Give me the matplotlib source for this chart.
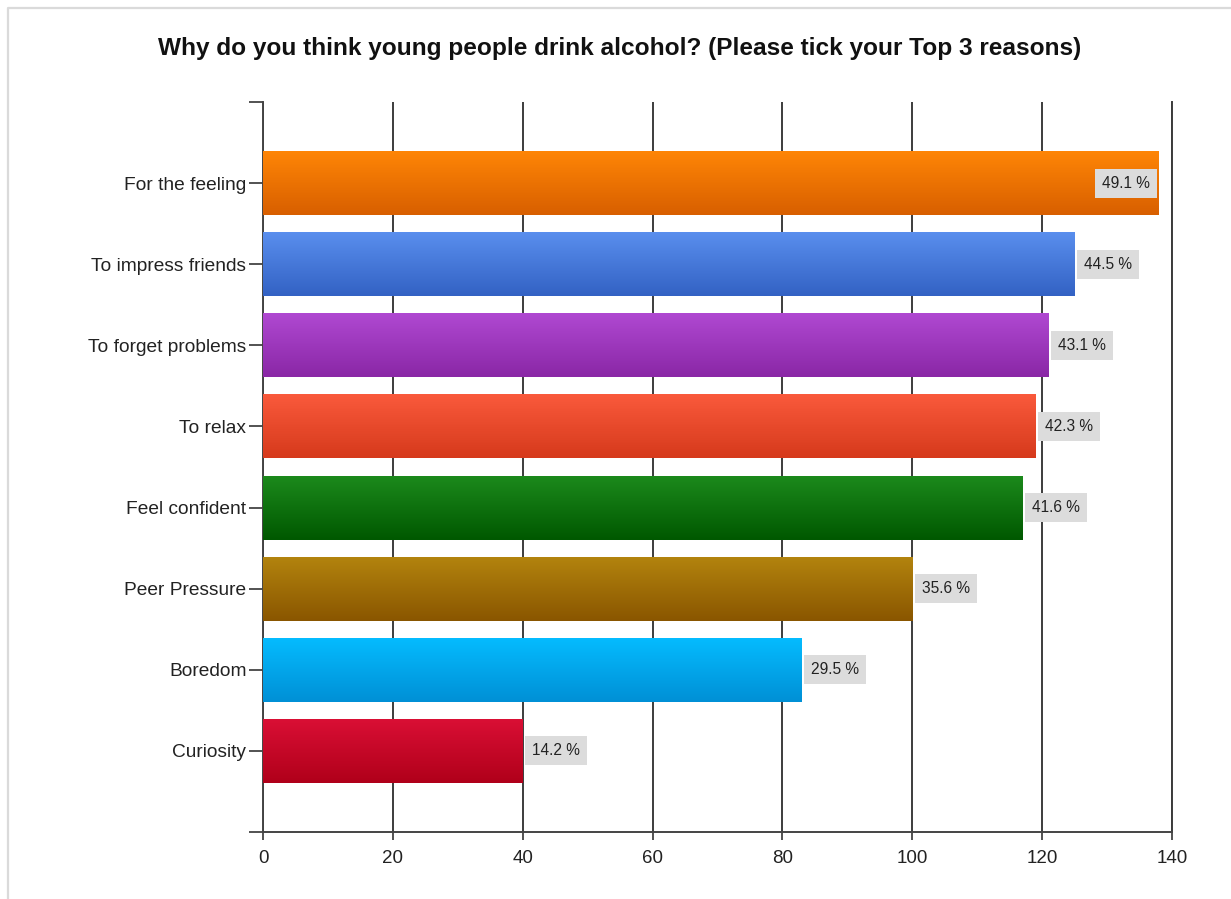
import matplotlib
matplotlib.use("Agg")
import matplotlib.pyplot as plt
import numpy as np
from matplotlib.colors import LinearSegmentedColormap
from matplotlib.lines import Line2D

plt.rcParams["font.family"] = ["Liberation Sans", "DejaVu Sans"]

title = "Why do you think young people drink alcohol? (Please tick your Top 3 reasons)"
reasons = ["For the feeling", "To impress friends", "To forget problems", "To relax",
           "Feel confident", "Peer Pressure", "Boredom", "Curiosity"]
counts = [138, 125, 121, 119, 117, 100, 83, 40]
percents = ["49.1", "44.5", "43.1", "42.3", "41.6", "35.6", "29.5", "14.2"]
top_colors = ["#ff8606", "#5a8fee", "#b049d2", "#fa5a3c", "#1c8a1c", "#b3840e", "#05bcff", "#da0f35"]
bottom_colors = ["#d85f00", "#3362c4", "#8a27a6", "#d63a1c", "#005800", "#8a5600", "#0090d6", "#b0001a"]
xticks = [0, 20, 40, 60, 80, 100, 120, 140]

fig = plt.figure(figsize=(12.31, 8.99), dpi=100)
ax = fig.add_axes([0.2137, 0.0746, 0.7384, 0.8119])

# light frame: only the top and left edges show in the screenshot
fig.lines.append(Line2D([0.0065, 0.0065, 1.0], [0.0, 0.991, 0.991], transform=fig.transFigure,
                        color="#dadada", lw=1.6))

ypos = np.arange(len(reasons))
bars = ax.barh(ypos, counts, height=0.79, color=top_colors, edgecolor="none", zorder=2)
grad = np.linspace(0, 1, 64).reshape(-1, 1)
for bar, c1, c2 in zip(bars, top_colors, bottom_colors):
    cmap = LinearSegmentedColormap.from_list("g", [c1, c2])
    x0, y0 = bar.get_x(), bar.get_y()
    w, h = bar.get_width(), bar.get_height()
    im = ax.imshow(grad, cmap=cmap, aspect="auto", extent=[x0, x0 + w, y0 + h, y0],
                   origin="upper", zorder=3)
    im.set_clip_path(bar)

for i, (v, p) in enumerate(zip(counts, percents)):
    label = f"{p} %"
    box = dict(boxstyle="square,pad=0.45", facecolor="#dcdcdc", edgecolor="none")
    if v > 130:
        ax.text(v - 1.45, i, label, ha="right", va="center", fontsize=11.2,
                color="#222222", bbox=box, zorder=5)
    else:
        ax.text(v + 1.45, i, label, ha="left", va="center", fontsize=11.2,
                color="#222222", bbox=box, zorder=5)

ax.set_xlim(0, 140)
ax.set_ylim(8, -1)
ax.set_xticks(xticks)
ax.set_yticks(ypos)
ax.set_yticklabels(reasons)
ax.set_yticks([-1, 8], minor=True)
ax.tick_params(axis="y", which="both", length=10, width=1.3, color="#444444",
               labelsize=13.8, labelcolor="#222222", pad=2)
ax.tick_params(axis="x", length=6, width=1.3, color="#444444",
               labelsize=13.5, labelcolor="#222222", pad=7)
ax.grid(axis="x", color="#3c3c3c", lw=1.4, zorder=0)
ax.set_axisbelow(True)
ax.spines["top"].set_visible(False)
for side in ["left", "bottom", "right"]:
    ax.spines[side].set_color("#444444")
    ax.spines[side].set_linewidth(1.4)
ax.spines["right"].set_color("#3c3c3c")

fig.text(0.503, 0.946, title, ha="center", va="center", fontsize=17.6,
         fontweight="bold", color="#111111")

fig.savefig("out.png", dpi=100)
